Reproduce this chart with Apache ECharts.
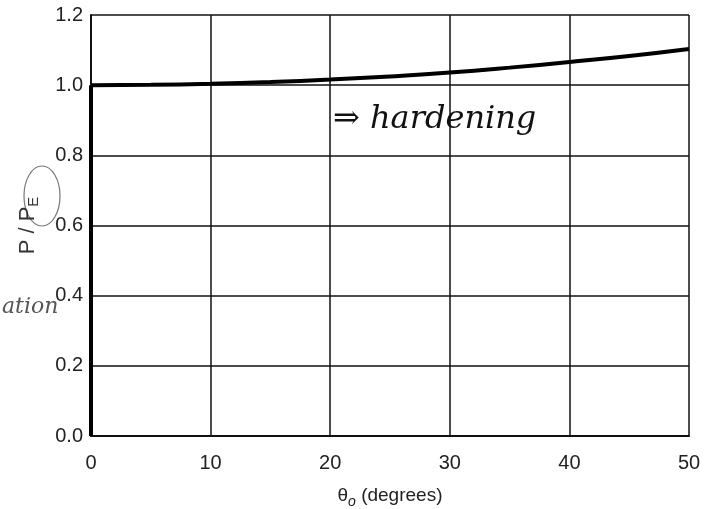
<!DOCTYPE html>
<html>
<head>
<meta charset="utf-8">
<script src="https://cdn.jsdelivr.net/npm/echarts@6/dist/echarts.min.js"></script>
<style>
  html, body { margin: 0; padding: 0; background: #fff; }
  #chart { width: 704px; height: 509px; }
</style>
</head>
<body>
<div id="chart"></div>
<script>
// theta_o (degrees) and P/P_E
const thetaVals = [0, 5, 10, 15, 20, 25, 30, 35, 40, 45, 50]
const ratioVals = [1.0, 1.001, 1.004, 1.009, 1.016, 1.025, 1.036, 1.05, 1.066, 1.083, 1.103]
// vertical (straight) branch at theta = 0
const branchTheta = [0, 0]
const branchRatio = [0, 1.0]

const curve = thetaVals.map((t, i) => [t, ratioVals[i]])
const branch = branchTheta.map((t, i) => [t, branchRatio[i]])

const myChart = echarts.init(document.getElementById('chart'))
const lineCol = '#111'
myChart.setOption({
  backgroundColor: '#fff',
  animation: false,
  grid: { left: 91, right: 15, top: 15, bottom: 73, containLabel: false, outerBoundsMode: 'none' },
  xAxis: {
    type: 'value',
    min: 0,
    max: 50,
    interval: 10,
    name: '{t|θ}{s|o}{t| (degrees)}',
    nameLocation: 'middle',
    nameGap: 47,
    nameTextStyle: {
      rich: {
        t: { fontFamily: 'Liberation Sans', fontSize: 19, color: '#222' },
        s: { fontFamily: 'Liberation Sans', fontSize: 14, fontStyle: 'italic', color: '#222', verticalAlign: 'bottom', padding: [12, 0, 0, 0] }
      }
    },
    axisLine: { show: true, lineStyle: { color: lineCol, width: 2 } },
    axisTick: { show: false },
    axisLabel: { fontFamily: 'Liberation Sans', fontSize: 20, color: '#222', margin: 17 },
    splitLine: { show: true, lineStyle: { color: lineCol, width: 1.5 } }
  },
  yAxis: {
    type: 'value',
    min: 0,
    max: 1.2,
    interval: 0.2,
    name: '{t|P / P}{s|E}',
    nameLocation: 'middle',
    nameRotate: 90,
    nameGap: 50,
    nameTextStyle: {
      rich: {
        t: { fontFamily: 'Liberation Sans', fontSize: 22, color: '#333' },
        s: { fontFamily: 'Liberation Sans', fontSize: 15, color: '#333', verticalAlign: 'bottom', padding: [12, 0, 0, 0] }
      }
    },
    axisLine: { show: true, lineStyle: { color: lineCol, width: 2 } },
    axisTick: { show: false },
    axisLabel: {
      fontFamily: 'Liberation Sans', fontSize: 20, color: '#222', margin: 8,
      formatter: v => v.toFixed(1)
    },
    splitLine: { show: true, lineStyle: { color: lineCol, width: 1.5 } }
  },
  series: [
    {
      name: 'curve',
      type: 'line',
      smooth: true,
      symbol: 'none',
      lineStyle: { color: '#000', width: 4 },
      data: curve
    },
    {
      name: 'branch',
      type: 'line',
      symbol: 'none',
      lineStyle: { color: '#000', width: 4 },
      data: branch
    }
  ],
  graphic: [
    {
      type: 'text',
      left: 333,
      top: 104,
      style: {
        text: '⇒ hardening',
        font: 'italic 32px "DejaVu Serif"',
        fill: '#111'
      }
    },
    {
      type: 'text',
      left: 2,
      top: 296,
      style: {
        text: 'ation',
        font: 'italic 22px "DejaVu Serif"',
        fill: '#555'
      }
    },
    {
      type: 'ellipse',
      shape: { cx: 42, cy: 196, rx: 18, ry: 30 },
      style: { fill: 'none', stroke: '#777', lineWidth: 1.2 }
    }
  ]
})
</script>
</body>
</html>
